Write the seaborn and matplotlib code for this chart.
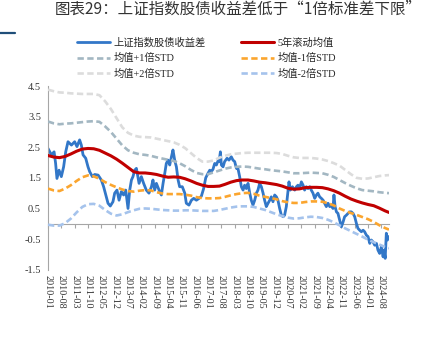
import matplotlib
matplotlib.use("Agg")
import matplotlib.pyplot as plt
import seaborn as sns
from matplotlib.lines import Line2D

# ---------------- data ----------------
title = "图表29：上证指数股债收益差低于“1倍标准差下限”"
tick_months = list(range(0, 176, 7))
tick_labels = ["2010-01", "2010-08", "2011-03", "2011-10", "2012-05", "2012-12",
               "2013-07", "2014-02", "2014-09", "2015-04", "2015-11", "2016-06",
               "2017-01", "2017-08", "2018-03", "2018-10", "2019-05", "2019-12",
               "2020-07", "2021-02", "2021-09", "2022-04", "2022-11", "2023-06",
               "2024-01", "2024-08"]

# months since 2010-01
spread_month = [0.0, 1.8, 3.2, 4.0, 4.7, 5.8, 7.0, 8.2, 9.3, 10.5, 12.3, 14.0, 15.2, 16.6, 17.5,
                18.4, 19.8, 21.0, 21.9, 23.3, 24.5, 26.3, 28.0, 29.2, 30.6, 31.5, 32.7, 34.1,
                35.0, 36.2, 37.3, 38.5, 39.7, 40.8, 42.0, 42.9, 43.8, 44.6, 45.5, 46.4, 47.8,
                49.0, 50.2, 51.6, 53.0, 54.3, 55.1, 56.0, 56.9, 58.3, 59.5, 60.4, 61.3, 62.1,
                63.0, 63.9, 64.8, 65.6, 66.5, 67.4, 68.3, 69.1, 70.5, 71.8, 72.6, 74.0, 75.3,
                76.5, 77.9, 79.3, 80.5, 81.7, 82.8, 84.0, 84.9, 85.7, 86.6, 87.5, 88.4, 89.2,
                89.8, 90.5, 91.0, 91.9, 92.7, 94.0, 95.0, 96.2, 97.1, 98.0, 98.9, 99.7, 100.6,
                101.5, 102.4, 103.2, 104.1, 105.0, 105.9, 106.7, 107.6, 108.5, 109.4, 110.2,
                111.1, 112.0, 112.9, 113.7, 114.6, 115.5, 116.4, 117.2, 118.1, 119.0, 119.9,
                120.7, 121.6, 122.5, 123.4, 124.2, 125.1, 126.0, 126.5, 127.2, 128.3, 129.5,
                130.4, 131.2, 132.1, 133.0, 133.9, 134.7, 135.6, 136.5, 137.4, 138.2, 139.1,
                140.0, 140.9, 141.7, 142.6, 143.5, 144.4, 145.2, 146.1, 147.0, 147.9, 148.7,
                149.6, 150.1, 150.7, 151.4, 152.2, 153.1, 154.0, 154.9, 155.7, 156.6, 157.5,
                158.4, 159.2, 160.1, 161.0, 161.9, 162.7, 163.6, 164.5, 165.4, 166.2, 167.1,
                168.0, 168.9, 169.7, 170.6, 171.5, 172.4, 173.2, 174.1, 175.0, 175.9, 176.4,
                177.0, 177.6, 178.2, 178.8]
spread = [2.46, 2.25, 2.35, 1.97, 1.48, 1.75, 1.54, 1.86, 2.35, 2.68, 2.57, 2.68, 2.52, 2.74, 2.57,
          2.25, 2.14, 1.86, 1.70, 1.54, 1.61, 1.59, 1.43, 1.21, 0.88, 0.67, 0.58, 0.72,
          1.00, 1.10, 0.77, 1.05, 0.94, 1.10, 0.50, 1.10, 1.43, 1.54, 1.75, 1.81, 1.32,
          1.54, 1.32, 1.10, 1.00, 1.21, 1.43, 1.10, 1.32, 1.10, 0.94, 1.32, 1.65, 1.97,
          2.08, 1.92, 2.19, 2.41, 2.08, 1.86, 1.43, 1.21, 1.21, 1.00, 0.67, 0.61, 0.77,
          0.83, 0.77, 0.83, 0.90, 1.15, 1.50, 1.65, 1.75, 1.70, 1.78, 1.97, 1.92, 2.05,
          2.03, 2.35, 1.92, 1.86, 2.03, 2.14, 2.08, 2.19, 2.08, 2.03, 1.81, 1.81, 1.54,
          1.21, 1.10, 1.26, 1.15, 1.32, 1.00, 0.77, 0.61, 0.77, 1.00, 1.10,
          1.32, 1.21, 1.00, 0.77, 0.56, 0.67, 0.77, 0.88, 0.72, 0.94, 0.88,
          0.77, 0.50, 0.28, 0.23, 0.28, 0.56, 1.10, 1.37, 1.10, 1.21, 1.10,
          1.21, 1.26, 1.15, 1.37, 1.26, 1.10, 1.21, 1.15, 1.21, 1.10, 1.00,
          0.83, 0.94, 1.00, 0.88, 0.83, 0.77, 0.67, 0.56, 0.67, 0.56, 0.61,
          0.50, 0.94, 0.56, 0.39, 0.34, 0.12, -0.10, 0.06, 0.23, 0.28, 0.34,
          0.39, 0.39, 0.34, 0.23, 0.01, -0.15, -0.21, -0.26, -0.21, -0.26, -0.37,
          -0.42, -0.64, -0.53, -0.59, -0.70, -0.64, -0.86, -0.97, -0.75, -1.08, -0.86,
          -1.13, -0.31, -0.53, -0.42]

band_month = list(range(0, 178, 3)) + [179]
mean_5y = [2.23, 2.18, 2.16, 2.20, 2.28, 2.37, 2.44, 2.46, 2.45, 2.40, 2.31, 2.22, 2.11, 1.98,
           1.84, 1.70, 1.66, 1.66, 1.64, 1.61, 1.56, 1.52, 1.53, 1.52, 1.47, 1.40, 1.32, 1.26,
           1.22, 1.22, 1.23, 1.29, 1.36, 1.41, 1.43, 1.43, 1.40, 1.36, 1.34, 1.31, 1.28, 1.23,
           1.16, 1.13, 1.14, 1.18, 1.19, 1.19, 1.18, 1.14, 1.08, 1.00, 0.90, 0.81, 0.74, 0.68,
           0.63, 0.59, 0.51, 0.42, 0.37]
plus1 = [3.34, 3.28, 3.25, 3.27, 3.28, 3.30, 3.32, 3.34, 3.35, 3.33, 3.18, 3.00, 2.78, 2.56,
         2.40, 2.32, 2.27, 2.25, 2.22, 2.17, 2.13, 2.09, 2.05, 1.98, 1.88, 1.76, 1.66, 1.62,
         1.62, 1.68, 1.74, 1.80, 1.84, 1.86, 1.87, 1.86, 1.83, 1.80, 1.78, 1.75, 1.73, 1.71,
         1.68, 1.65, 1.65, 1.66, 1.67, 1.66, 1.65, 1.60, 1.53, 1.43, 1.33, 1.24, 1.16, 1.10,
         1.08, 1.06, 1.03, 1.01, 1.00]
minus1 = [1.15, 1.09, 1.07, 1.15, 1.26, 1.40, 1.52, 1.58, 1.55, 1.47, 1.36, 1.27, 1.19, 1.12,
          1.07, 1.05, 1.08, 1.10, 1.09, 1.03, 0.99, 0.97, 0.97, 0.97, 0.95, 0.92, 0.87, 0.84,
          0.83, 0.83, 0.84, 0.88, 0.93, 0.97, 1.00, 1.01, 0.98, 0.92, 0.88, 0.84, 0.80, 0.74,
          0.70, 0.68, 0.68, 0.71, 0.73, 0.73, 0.72, 0.67, 0.60, 0.50, 0.42, 0.35, 0.29, 0.22,
          0.15, 0.06, -0.05, -0.14, -0.19]
plus2 = [4.38, 4.33, 4.29, 4.28, 4.26, 4.25, 4.24, 4.24, 4.24, 4.20, 4.00, 3.75, 3.45, 3.15,
         2.97, 2.88, 2.84, 2.83, 2.82, 2.78, 2.74, 2.70, 2.66, 2.58, 2.47, 2.31, 2.15, 2.03,
         2.03, 2.07, 2.16, 2.22, 2.27, 2.29, 2.31, 2.32, 2.32, 2.32, 2.32, 2.32, 2.31, 2.28,
         2.22, 2.17, 2.15, 2.15, 2.15, 2.13, 2.10, 2.05, 1.98, 1.90, 1.76, 1.62, 1.50, 1.47,
         1.48, 1.52, 1.56, 1.58, 1.59]
minus2 = [-0.03, -0.06, -0.06, 0.02, 0.17, 0.37, 0.55, 0.64, 0.65, 0.59, 0.45, 0.33, 0.27, 0.31,
          0.38, 0.44, 0.49, 0.50, 0.49, 0.47, 0.45, 0.44, 0.43, 0.43, 0.44, 0.44, 0.43, 0.42,
          0.42, 0.42, 0.45, 0.49, 0.53, 0.56, 0.57, 0.57, 0.55, 0.50, 0.45, 0.38, 0.31, 0.25,
          0.20, 0.17, 0.18, 0.21, 0.23, 0.22, 0.19, 0.13, 0.05, -0.05, -0.15, -0.24, -0.33, -0.42,
          -0.52, -0.60, -0.68, -0.76, -0.80]

labels = ["上证指数股债收益差", "5年滚动均值", "均值+1倍STD", "均值-1倍STD", "均值+2倍STD", "均值-2倍STD"]
y_ticks = [-1.5, -0.5, 0.5, 1.5, 2.5, 3.5, 4.5]

# ---------------- style ----------------
sns.set_theme(style="white")
plt.rcParams["font.family"] = ["Liberation Serif", "Noto Sans CJK SC", "DejaVu Sans"]

W, H = 421, 337
fig = plt.figure(figsize=(W / 100, H / 100), dpi=100)
ax = fig.add_axes([48 / W, 1 - 269.7 / H, (389 - 48) / W, (269.7 - 86) / H])

dash = (2.4, 1.3)
sns.lineplot(x=spread_month, y=spread, ax=ax, color="#3277C8", linewidth=2.0,
             label=labels[0], zorder=2)
sns.lineplot(x=band_month, y=mean_5y, ax=ax, color="#C00000", linewidth=2.2,
             label=labels[1], zorder=3)
series = [(plus1, "#A3B7C2", labels[2]), (minus1, "#FBA52E", labels[3]),
          (plus2, "#DCDCDC", labels[4]), (minus2, "#A5C3EC", labels[5])]
for i, (vals, col, lab) in enumerate(series):
    sns.lineplot(x=band_month, y=vals, ax=ax, color=col, linewidth=1.9,
                 label=lab, zorder=4 + i)
    ax.lines[-1].set_dashes(dash)

ax.set_xlim(0, 179)
ax.set_ylim(-1.5, 4.5)
ax.set_xlabel("")
ax.set_ylabel("")
ax.set_yticks(y_ticks)
ax.set_yticklabels([f"{v:.1f}" for v in y_ticks], fontsize=7.5, color="#333333")
ax.set_xticks(tick_months)
ax.set_xticklabels(tick_labels, rotation=270, fontsize=7.3, color="#333333",
                   ha="center", va="top")
ax.tick_params(axis="x", length=0, pad=4)
ax.tick_params(axis="y", length=3, direction="out", color="#A6A6A6", width=0.8, pad=2)
for s in ["top", "right", "bottom"]:
    ax.spines[s].set_visible(False)
ax.spines["left"].set_color("#A6A6A6")
ax.spines["left"].set_linewidth(0.8)

# zero axis line with tick marks
sec = ax.secondary_xaxis(0, transform=ax.transData)
sec.set_xticks(tick_months)
sec.set_xticklabels([])
sec.tick_params(axis="x", direction="out", length=3, color="#A6A6A6", width=0.8)
sec.spines["bottom"].set_color("#A6A6A6")
sec.spines["bottom"].set_linewidth(0.8)

# legend
handles, labs = ax.get_legend_handles_labels()
ax.get_legend().remove()
order = [0, 2, 4, 1, 3, 5]
fig.legend([handles[i] for i in order], [labs[i] for i in order], ncol=2,
           loc="upper left", bbox_to_anchor=(77 / W, 1 - 37 / H), frameon=False,
           fontsize=7.4, handlelength=3.2, handletextpad=0.35, columnspacing=3.4,
           labelspacing=0.55, borderaxespad=0, borderpad=0)

# title
fig.text(55 / W, 1 - 9.5 / H, title, ha="left", va="center", fontsize=11.2,
         style="italic", color="#333333", family=["Noto Sans CJK SC", "DejaVu Sans"])
fig.add_artist(Line2D([0, 15 / W], [1 - 33 / H, 1 - 33 / H], color="#1F4E79", lw=1.6,
                      transform=fig.transFigure))

fig.savefig("out.png", dpi=100)
